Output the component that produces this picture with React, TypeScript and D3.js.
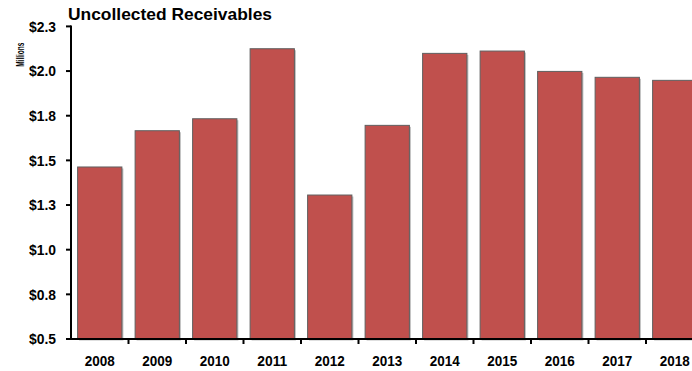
import React from "react";
import * as d3 from "d3";

const years = ["2008", "2009", "2010", "2011", "2012", "2013", "2014", "2015", "2016", "2017", "2018"];
const receivables = [1.463, 1.666, 1.733, 2.125, 1.306, 1.696, 2.099, 2.112, 1.998, 1.965, 1.948];
const yTicks = [0.5, 0.75, 1.0, 1.25, 1.5, 1.75, 2.0, 2.25];
const yTickLabels = ["$0.5", "$0.8", "$1.0", "$1.3", "$1.5", "$1.8", "$2.0", "$2.3"];
const title = "Uncollected Receivables";
const unitLabel = "Millions";

const W = 692;
const H = 371;
const axisX = 71;
const baseY = 339;
const topY = 26.4;
const step = 57.5;

export default function App() {
  const x = d3
    .scaleBand<string>()
    .domain(years)
    .range([axisX, axisX + step * years.length])
    .paddingInner(0.23)
    .paddingOuter(0.115);
  const y = d3.scaleLinear().domain([0.5, 2.25]).range([baseY, topY]);
  const font = "'Liberation Sans', Arial, sans-serif";
  const boundaries = years.map((_, i) => axisX + step * (i + 1));

  return (
    <svg
      width={W}
      height={H}
      style={{ position: "absolute", left: 0, top: 0, display: "block", background: "#fff" }}
      fontFamily={font}
    >
      {years.map((yr, i) => (
        <g key={yr}>
          <rect
            x={(x(yr) as number) + 1.5}
            y={y(receivables[i]) + 1.5}
            width={x.bandwidth()}
            height={baseY - y(receivables[i])}
            fill="#bdbdbd"
          />
          <rect
            x={x(yr) as number}
            y={y(receivables[i])}
            width={x.bandwidth()}
            height={baseY - y(receivables[i])}
            fill="#C0504D"
            stroke="#5f5f5f"
            strokeWidth={1}
          />
        </g>
      ))}
      {/* y axis */}
      <line x1={axisX} x2={axisX} y1={topY - 1} y2={baseY + 1} stroke="#000" strokeWidth={2} />
      {yTicks.map((t, i) => (
        <g key={t}>
          <line x1={axisX - 5} x2={axisX} y1={y(t)} y2={y(t)} stroke="#000" strokeWidth={2} />
          <text
            x={56}
            y={y(t)}
            dy="0.36em"
            textAnchor="end"
            fontSize={15}
            fontWeight="bold"
            fill="#000"
            textLength={27}
            lengthAdjust="spacingAndGlyphs"
          >
            {yTickLabels[i]}
          </text>
        </g>
      ))}
      {/* x axis */}
      <line x1={axisX - 5} x2={W} y1={baseY} y2={baseY} stroke="#000" strokeWidth={2} />
      {boundaries.map((b, i) => (
        <line key={i} x1={b} x2={b} y1={baseY} y2={baseY + 5} stroke="#000" strokeWidth={2} />
      ))}
      {years.map((yr) => (
        <text
          key={yr}
          x={(x(yr) as number) + x.bandwidth() / 2}
          y={366}
          textAnchor="middle"
          fontSize={15}
          fontWeight="bold"
          fill="#000"
          textLength={30}
          lengthAdjust="spacingAndGlyphs"
        >
          {yr}
        </text>
      ))}
      <text
        x={68}
        y={19.5}
        fontSize={16.5}
        fontWeight="bold"
        fill="#000"
        textLength={204}
        lengthAdjust="spacingAndGlyphs"
      >
        {title}
      </text>
      <text
        transform={`translate(23.5, 54.7) rotate(-90)`}
        textAnchor="middle"
        fontSize={11}
        fontWeight="bold"
        fill="#000"
        textLength={24}
        lengthAdjust="spacingAndGlyphs"
      >
        {unitLabel}
      </text>
    </svg>
  );
}
